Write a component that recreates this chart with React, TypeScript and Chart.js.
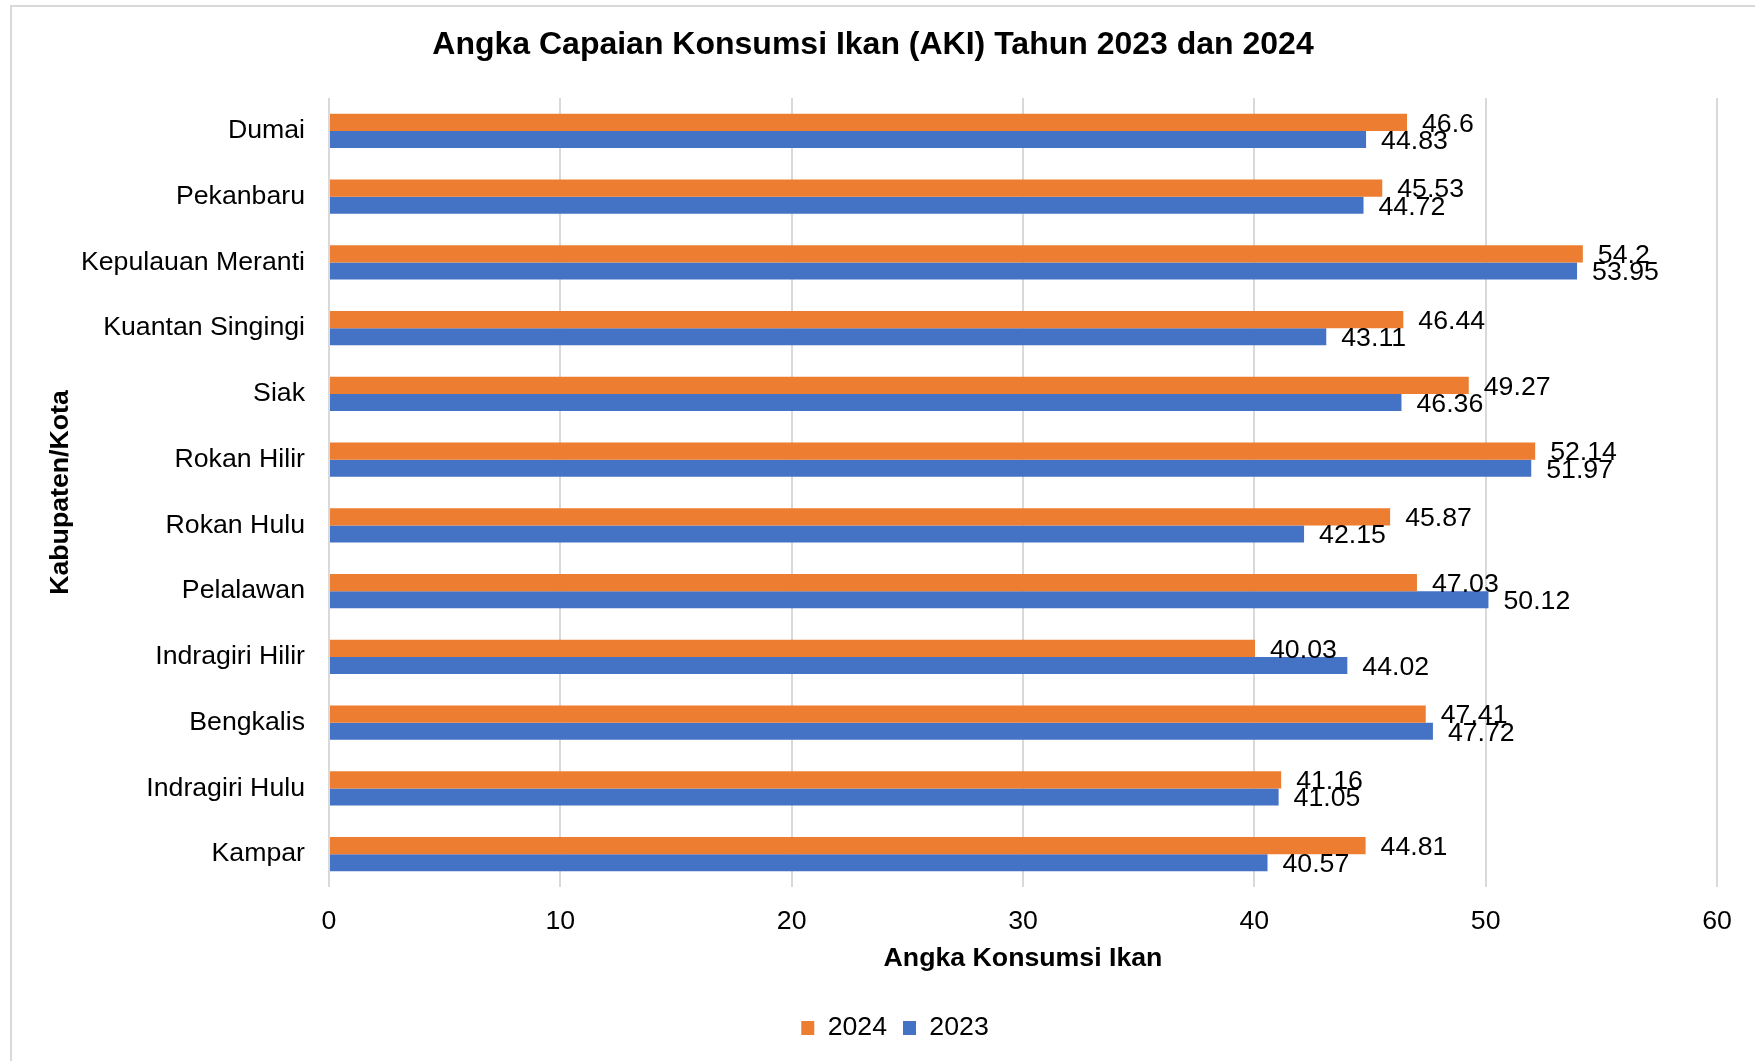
import React, { useEffect, useRef } from "react";
import { Chart, registerables } from "chart.js";

Chart.register(...registerables);

const categories = [
  "Dumai",
  "Pekanbaru",
  "Kepulauan Meranti",
  "Kuantan Singingi",
  "Siak",
  "Rokan Hilir",
  "Rokan Hulu",
  "Pelalawan",
  "Indragiri Hilir",
  "Bengkalis",
  "Indragiri Hulu",
  "Kampar",
];
const values2024 = [46.6, 45.53, 54.2, 46.44, 49.27, 52.14, 45.87, 47.03, 40.03, 47.41, 41.16, 44.81];
const values2023 = [44.83, 44.72, 53.95, 43.11, 46.36, 51.97, 42.15, 50.12, 44.02, 47.72, 41.05, 40.57];
const seriesNames = ["2024", "2023"];
const xMin = 0;
const xMax = 60;
const xStep = 10;

const FONT = "'Liberation Sans', Arial, sans-serif";
const FS = 26.7;
const W = 1755;
const H = 1061;

const backgroundPlugin = {
  id: "bgBorder",
  beforeDraw(chart: any) {
    const ctx = chart.ctx;
    ctx.save();
    ctx.fillStyle = "#ffffff";
    ctx.fillRect(0, 0, chart.width, chart.height);
    ctx.strokeStyle = "#d9d9d9";
    ctx.lineWidth = 2;
    ctx.beginPath();
    ctx.moveTo(11, chart.height);
    ctx.lineTo(11, 6);
    ctx.lineTo(chart.width, 6);
    ctx.stroke();
    ctx.restore();
  },
};

const legendShiftPlugin = {
  id: "legendShift",
  afterLayout(chart: any) {
    const lg = chart.legend;
    if (lg) {
      lg.left += 22;
      lg.right += 22;
    }
  },
};

const valueLabelPlugin = {
  id: "valueLabels",
  afterDatasetsDraw(chart: any) {
    const ctx = chart.ctx;
    ctx.save();
    ctx.font = `${FS}px ${FONT}`;
    ctx.fillStyle = "#000000";
    ctx.textAlign = "left";
    ctx.textBaseline = "middle";
    chart.data.datasets.forEach((ds: any, di: number) => {
      const meta = chart.getDatasetMeta(di);
      meta.data.forEach((el: any, i: number) => {
        const v = ds.data[i];
        ctx.fillText(String(v), el.x + 15, el.y + 2);
      });
    });
    ctx.restore();
  },
};

export default function App() {
  const ref = useRef<HTMLCanvasElement | null>(null);

  useEffect(() => {
    if (!ref.current) return;
    const chart = new Chart(ref.current, {
      type: "bar",
      data: {
        labels: categories,
        datasets: [
          {
            label: seriesNames[0],
            data: values2024,
            backgroundColor: "#ED7D31",
            categoryPercentage: 0.52,
            barPercentage: 1,
          },
          {
            label: seriesNames[1],
            data: values2023,
            backgroundColor: "#4472C4",
            categoryPercentage: 0.52,
            barPercentage: 1,
          },
        ],
      },
      options: {
        indexAxis: "y",
        responsive: false,
        animation: false,
        devicePixelRatio: 1,
        layout: { padding: { left: 29, right: 38, top: 0, bottom: 9.65 } },
        plugins: {
          title: {
            display: true,
            text: "Angka Capaian Konsumsi Ikan (AKI) Tahun 2023 dan 2024",
            color: "#000000",
            font: { family: FONT, size: 32, weight: "bold" },
            padding: { top: 26, bottom: 33.6 },
          },
          legend: {
            display: true,
            position: "bottom",
            labels: {
              color: "#000000",
              font: { family: FONT, size: FS },
              boxWidth: 13,
              boxHeight: 14,
              padding: 16,
            },
          },
          tooltip: { enabled: false },
        },
        scales: {
          x: {
            type: "linear",
            min: xMin,
            max: xMax,
            ticks: {
              stepSize: xStep,
              color: "#000000",
              font: { family: FONT, size: FS },
              padding: 19,
            },
            grid: { color: "#d9d9d9", lineWidth: 2, drawTicks: false },
            border: { display: false },
            title: {
              display: true,
              text: "Angka Konsumsi Ikan",
              color: "#000000",
              font: { family: FONT, size: FS, weight: "bold" },
              padding: { top: 0, bottom: 23.6 },
            },
            afterFit: (s: any) => {
              s.height = 111.65;
            },
          },
          y: {
            type: "category",
            ticks: {
              color: "#000000",
              font: { family: FONT, size: FS },
              padding: 24,
            },
            grid: { display: false, drawTicks: false },
            border: { display: false },
            title: {
              display: true,
              text: "Kabupaten/Kota",
              color: "#000000",
              font: { family: FONT, size: FS, weight: "bold" },
              padding: { top: 16, bottom: 0 },
            },
            afterFit: (s: any) => {
              s.width = 300;
            },
          },
        },
      },
      plugins: [backgroundPlugin, legendShiftPlugin, valueLabelPlugin],
    });
    return () => chart.destroy();
  }, []);

  return (
    <div style={{ position: "absolute", left: 0, top: 0, width: W, height: H, background: "#fff" }}>
      <canvas ref={ref} width={W} height={H} style={{ display: "block", width: W, height: H }} />
    </div>
  );
}
